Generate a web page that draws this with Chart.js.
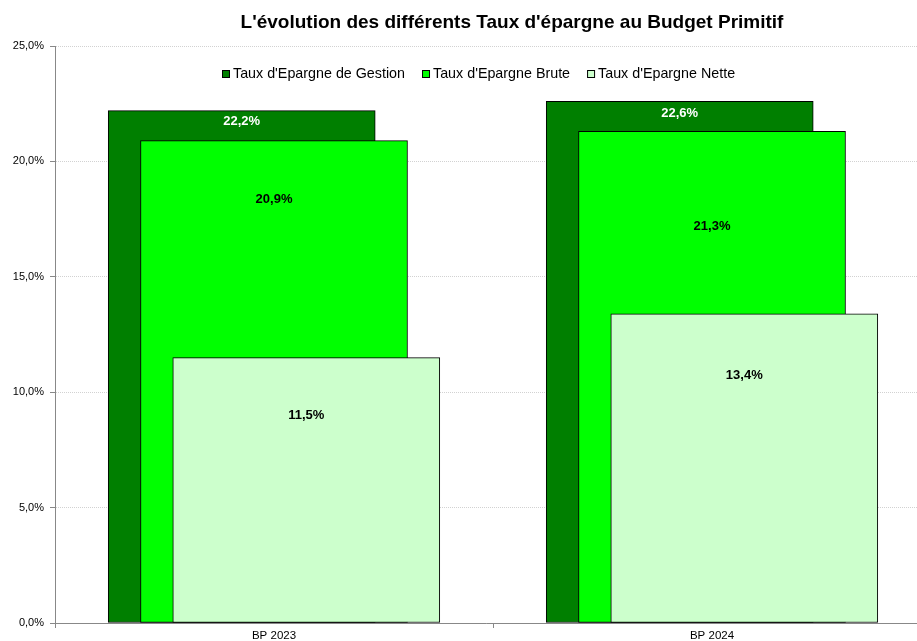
<!DOCTYPE html>
<html>
<head>
<meta charset="utf-8">
<script src="https://cdn.jsdelivr.net/npm/chart.js@4/dist/chart.umd.min.js"></script>
<style>
    html, body { margin: 0; padding: 0; background: #fff; overflow: hidden; }
</style>
</head>
<body>
<canvas id="chart" width="917" height="641"></canvas>
<script>
// Chart data
const categories = ['BP 2023', 'BP 2024'];
const seriesNames = ["Taux d'Epargne de Gestion", "Taux d'Epargne Brute", "Taux d'Epargne Nette"];
const gestion = [22.2, 22.6];
const brute = [20.9, 21.3];
const nette = [11.5, 13.4];
const yTicks = [0, 5, 10, 15, 20, 25];
const chartTitle = "L'évolution des différents Taux d'épargne au Budget Primitif";

const colors = ['#007f00', '#00ff00', '#ccffcc'];
const labelColors = ['#ffffff', '#000000', '#000000'];
// how far below the bar top each value label sits (px)
const labelDrop = [[11, 12], [59, 95], [58, 62]];
const FONT = '"Liberation Sans", Arial, sans-serif';

const fmt = v => v.toFixed(1).replace('.', ',') + '%';

// series are drawn overlapped, shifted a bit to the right one after the other
const step = 0.0737;
const allSeries = [gestion, brute, nette];
const datasets = allSeries.map((values, s) => ({
    label: seriesNames[s],
    data: values.map((v, i) => ({ x: i + (s - 1) * step, y: v })),
    backgroundColor: colors[s],
    borderColor: '#000',
    borderWidth: 1,
    borderSkipped: false,
    grouped: false,
    barThickness: 267,
    order: allSeries.length - s   // later series drawn on top
}));

const decorPlugin = {
    id: 'decor',
    afterDatasetsDraw(chart) {
        const ctx = chart.ctx;
        ctx.save();

        // value labels
        ctx.font = 'bold 13px ' + FONT;
        ctx.textAlign = 'center';
        ctx.textBaseline = 'middle';
        chart.data.datasets.forEach((ds, d) => {
            chart.getDatasetMeta(d).data.forEach((bar, i) => {
                ctx.fillStyle = labelColors[d];
                ctx.fillText(fmt(ds.data[i].y), bar.x, bar.y + labelDrop[d][i]);
            });
        });

        // title
        ctx.font = 'bold 19px ' + FONT;
        ctx.fillStyle = '#000';
        ctx.textBaseline = 'alphabetic';
        ctx.fillText(chartTitle, 512, 28);

        // legend
        ctx.font = '14.3px ' + FONT;
        ctx.textAlign = 'left';
        let x = 222;
        const y = 78;
        chart.data.datasets.forEach((ds, d) => {
            ctx.fillStyle = colors[d];
            ctx.fillRect(x + 0.5, y - 7.5, 7, 7);
            ctx.strokeStyle = '#000';
            ctx.lineWidth = 1;
            ctx.strokeRect(x + 0.5, y - 7.5, 7, 7);
            ctx.fillStyle = '#000';
            ctx.fillText(ds.label, x + 11, y);
            x += 11 + ctx.measureText(ds.label).width + 17;
        });

        ctx.restore();
    }
};

new Chart(document.getElementById('chart'), {
    type: 'bar',
    data: { datasets },
    options: {
        responsive: false,
        animation: false,
        layout: { padding: { top: 46, left: 0, right: 0, bottom: 0 } },
        plugins: {
            legend: { display: false },
            title: { display: false },
            tooltip: { enabled: false }
        },
        scales: {
            x: {
                type: 'linear',
                offset: false,
                min: -0.5,
                max: 1.468,
                afterBuildTicks: scale => {
                    scale.ticks = [-0.5, 0, 0.5, 1].map(v => ({ value: v }));
                },
                afterFit: scale => { scale.height = 18; },
                ticks: {
                    autoSkip: false,
                    maxRotation: 0,
                    padding: 1,
                    color: '#000',
                    font: { family: FONT, size: 11.5 },
                    callback: v => Number.isInteger(v) ? categories[v] : ''
                },
                grid: {
                    offset: false,
                    drawOnChartArea: false,
                    tickLength: 5,
                    tickColor: ctx => (ctx.tick && Number.isInteger(ctx.tick.value)) ? 'rgba(0,0,0,0)' : '#888'
                },
                border: { color: '#888', width: 1 }
            },
            y: {
                min: 0,
                max: 25,
                afterBuildTicks: scale => {
                    scale.ticks = yTicks.map(v => ({ value: v }));
                },
                afterFit: scale => { scale.width = 55; },
                ticks: {
                    padding: 6,
                    color: '#000',
                    font: { family: FONT, size: 11 },
                    callback: v => fmt(v)
                },
                grid: {
                    color: '#d2d2d2',
                    tickLength: 5,
                    tickColor: '#888',
                    tickBorderDash: []
                },
                border: { color: '#888', width: 1, dash: [1, 1] }
            }
        }
    },
    plugins: [decorPlugin]
});
</script>
</body>
</html>
